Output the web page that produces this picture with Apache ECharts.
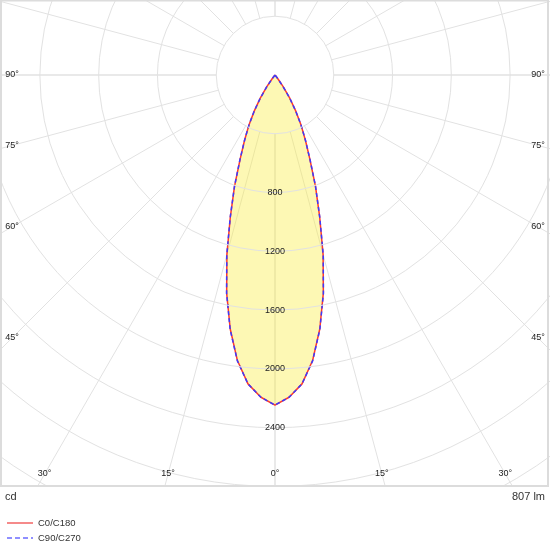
<!DOCTYPE html>
<html>
<head>
<meta charset="utf-8">
<script src="https://cdn.jsdelivr.net/npm/echarts@6/dist/echarts.min.js"></script>
<style>html,body{margin:0;padding:0;background:#fff}#c{width:550px;height:550px}</style>
</head>
<body>
<div id="c"></div>
<script>
// ---- data ----
var gammaDeg = [0, 2.5, 5, 7.5, 10, 12.5, 15, 17.5, 20, 22.5, 25, 27.5, 30, 32.5, 35, 37.5, 40];
var c0c180   = [2246, 2195, 2110, 1960, 1755, 1520, 1265, 1010, 805, 620, 490, 385, 280, 185, 95, 30, 0];
var c90c270  = [2246, 2195, 2110, 1962, 1758, 1522, 1268, 1012, 806, 622, 490, 385, 280, 185, 95, 30, 0];
var seriesNames = ['C0/C180', 'C90/C270'];
var radiusTickLabels = [800, 1200, 1600, 2000, 2400];
var sideAngleLabels = [90, 75, 60, 45];
var bottomAngleLabels = [30, 15, 0];
var unitLeft = 'cd';
var unitRight = '807 lm';

// ---- layout ----
var CX = 275, CY = 75;
var PX_PER_CD = 58.78 / 400;
var R_MAX = 4000;
var OUTER = R_MAX * PX_PER_CD;
var INNER = 400 * PX_PER_CD;
var FONT = 'Liberation Sans, Arial, sans-serif';
var NOSYM = {color: 'rgba(0,0,0,0)', borderColor: 'rgba(0,0,0,0)', borderWidth: 0, opacity: 0};

function buildCurve(vals) {
  var d = [];
  for (var i = gammaDeg.length - 1; i >= 1; i--) d.push([vals[i], 360 - gammaDeg[i]]);
  for (var j = 0; j < gammaDeg.length; j++) d.push([vals[j], gammaDeg[j]]);
  return d;
}

var graphics = [
  {type: 'rect', shape: {x: 0, y: 487, width: 550, height: 63}, style: {fill: '#fff'}, z: 50, silent: true},
  {type: 'rect', shape: {x: 1, y: 0.5, width: 547, height: 485.5}, style: {fill: 'transparent', stroke: '#dcdcdc', lineWidth: 2}, z: 60, silent: true}
];
function addLabel(txt, x, y) {
  graphics.push({type: 'text', x: x, y: y, z: 100, silent: true,
    style: {text: txt, align: 'center', verticalAlign: 'middle', fontSize: 9, fill: '#222', fontFamily: FONT}});
}
sideAngleLabels.forEach(function (a) {
  var dy = a === 90 ? 0 : 263 / Math.tan(a * Math.PI / 180);
  addLabel(a + '°', CX - 263, CY + dy);
  addLabel(a + '°', CX + 263, CY + dy);
});
bottomAngleLabels.forEach(function (a) {
  var dx = 399 * Math.tan(a * Math.PI / 180);
  addLabel(a + '°', CX - dx, CY + 399);
  if (a !== 0) addLabel(a + '°', CX + dx, CY + 399);
});

var chart = echarts.init(document.getElementById('c'), null, {renderer: 'canvas'});
chart.setOption({
  animation: false,
  backgroundColor: '#fff',
  textStyle: {fontFamily: FONT},
  title: [
    {text: unitLeft, left: 5, top: 491, padding: 0, z: 100, textStyle: {fontSize: 11, fontWeight: 'normal', color: '#333', fontFamily: FONT}},
    {text: unitRight, right: 5, top: 491, padding: 0, z: 100, textStyle: {fontSize: 11, fontWeight: 'normal', color: '#333', fontFamily: FONT}}
  ],
  legend: {
    orient: 'vertical', left: 6, top: 518, padding: 0, z: 100,
    itemWidth: 26, itemHeight: 10, itemGap: 5,
    textStyle: {fontSize: 9.5, color: '#333', fontFamily: FONT},
    data: [
      {name: seriesNames[0], itemStyle: NOSYM, lineStyle: {color: '#f58a8a', width: 2, type: 'solid'}},
      {name: seriesNames[1], itemStyle: NOSYM, lineStyle: {color: '#8f8fff', width: 2, type: [5, 3]}}
    ]
  },
  polar: [
    {center: [CX, CY], radius: [0, OUTER]},
    {center: [CX, CY], radius: [INNER, OUTER]},
    {center: [CX, CY], radius: [INNER, OUTER]}
  ],
  angleAxis: [
    {polarIndex: 0, type: 'value', min: 0, max: 360, startAngle: 270, clockwise: false, show: false},
    {polarIndex: 1, type: 'value', min: 0, max: 360, interval: 15, startAngle: 270, clockwise: false, z: 1,
      axisLine: {show: false}, axisTick: {show: false}, axisLabel: {show: false},
      splitLine: {show: true, lineStyle: {color: '#e2e2e2', width: 1}}},
    {polarIndex: 2, type: 'value', min: 0, max: 360, interval: 90, startAngle: 270, clockwise: false, z: 1,
      axisLine: {show: false}, axisTick: {show: false}, axisLabel: {show: false},
      splitLine: {show: true, lineStyle: {color: '#e9e9e9', width: 2}}}
  ],
  radiusAxis: [
    {polarIndex: 0, type: 'value', min: 0, max: R_MAX, interval: 400, z: 10,
      axisLine: {show: false}, axisTick: {show: false},
      splitLine: {show: true, lineStyle: {color: '#e2e2e2', width: 1}},
      axisLabel: {
        margin: 0, align: 'center', verticalAlign: 'middle', fontSize: 9, color: '#222', fontFamily: FONT,
        formatter: function (v) { return radiusTickLabels.indexOf(v) >= 0 ? String(v) : ''; }
      }},
    {polarIndex: 1, type: 'value', min: 0, max: 1, show: false},
    {polarIndex: 2, type: 'value', min: 0, max: 1, show: false}
  ],
  series: [
    {type: 'line', name: seriesNames[0], coordinateSystem: 'polar', polarIndex: 0,
      data: buildCurve(c0c180), symbol: 'none', smooth: false, z: 3,
      itemStyle: {color: '#f58a8a'},
      lineStyle: {color: '#ff3a2a', width: 1.5},
      areaStyle: {color: 'rgba(250,238,60,0.55)'}},
    {type: 'line', name: seriesNames[1], coordinateSystem: 'polar', polarIndex: 0,
      data: buildCurve(c90c270), symbol: 'none', smooth: false, z: 4,
      itemStyle: {color: '#8f8fff'},
      lineStyle: {color: '#3a3aff', width: 1.5, type: [4, 3]}}
  ],
  graphic: graphics
});
</script>
</body>
</html>
